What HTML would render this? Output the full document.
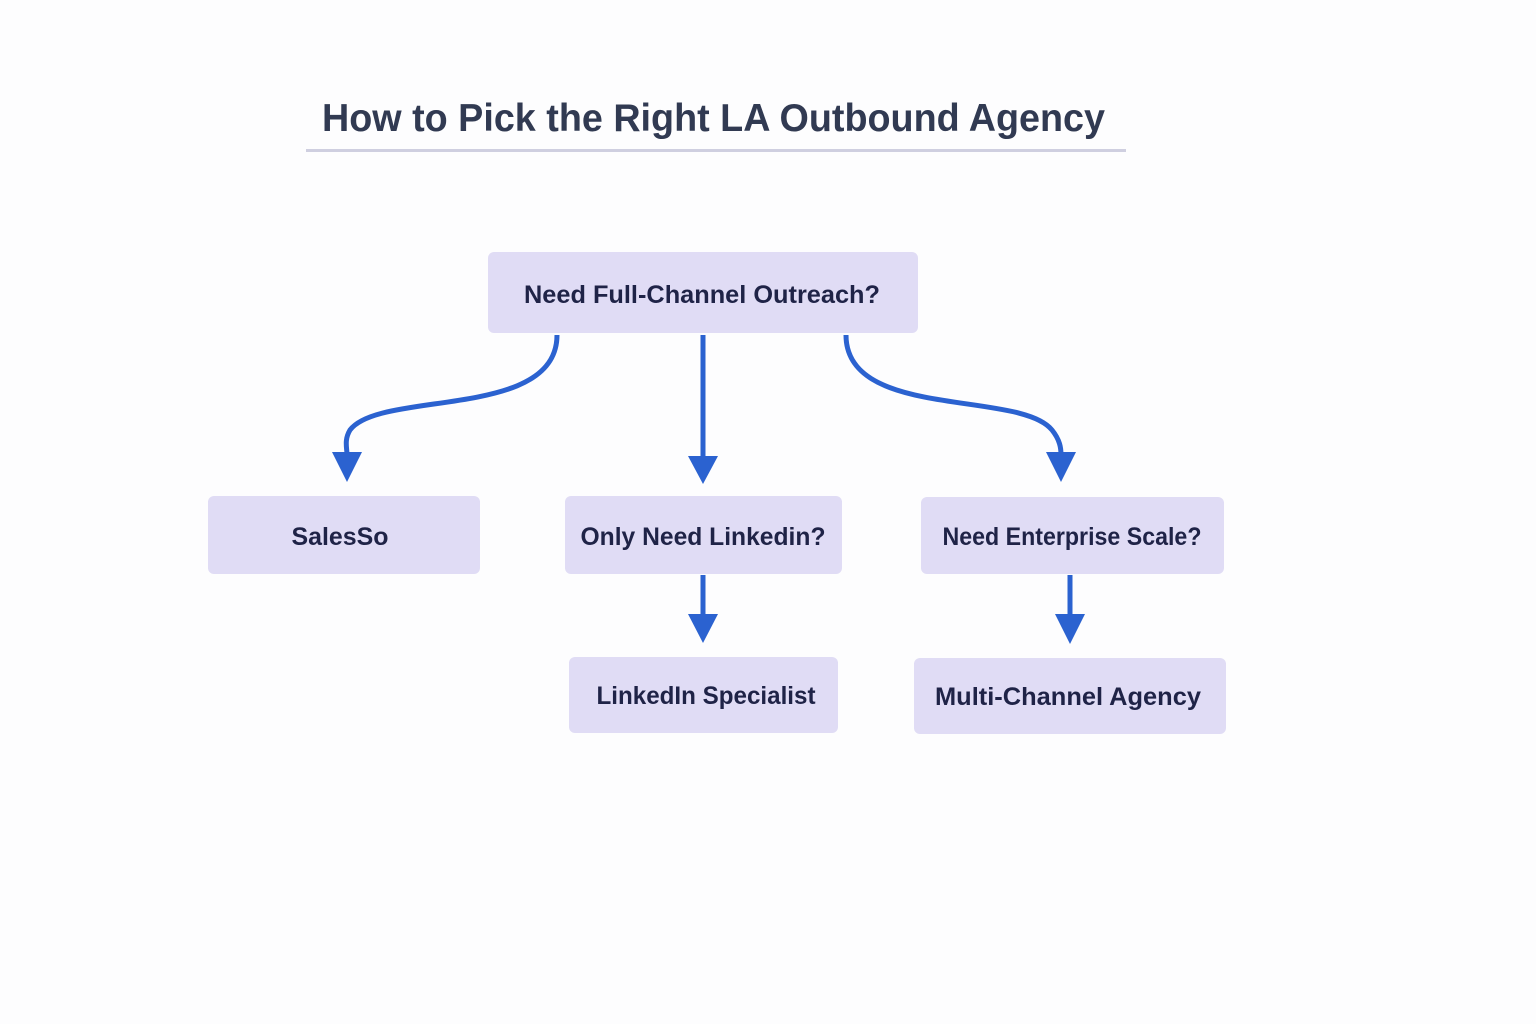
<!DOCTYPE html>
<html><head><meta charset="utf-8"><style>
html,body{margin:0;padding:0;background:#fdfdfe;}
svg{display:block}
text{font-family:"Liberation Sans",sans-serif;}
</style></head><body>
<svg width="1536" height="1024" viewBox="0 0 1536 1024">
<rect width="1536" height="1024" fill="#fdfdfe"/>
<text x="322" y="131" font-size="39" font-weight="bold" fill="#313a52" textLength="783" lengthAdjust="spacingAndGlyphs">How to Pick the Right LA Outbound Agency</text>
<rect x="306" y="149" width="820" height="3" fill="#cfcfe0"/>
<g fill="#e0dcf5">
<rect x="488" y="252" width="430" height="81" rx="6"/>
<rect x="208" y="496" width="272" height="78" rx="6"/>
<rect x="565" y="496" width="277" height="78" rx="6"/>
<rect x="921" y="497" width="303" height="77" rx="6"/>
<rect x="569" y="657" width="269" height="76" rx="6"/>
<rect x="914" y="658" width="312" height="76" rx="6"/>
</g>
<g font-size="25" font-weight="bold" fill="#1f2347" text-anchor="middle">
<text x="702" y="303" textLength="356" lengthAdjust="spacingAndGlyphs">Need Full-Channel Outreach?</text>
<text x="340" y="545" textLength="97" lengthAdjust="spacingAndGlyphs">SalesSo</text>
<text x="703" y="545" textLength="245" lengthAdjust="spacingAndGlyphs">Only Need Linkedin?</text>
<text x="1072" y="545" textLength="259" lengthAdjust="spacingAndGlyphs">Need Enterprise Scale?</text>
<text x="706" y="704" textLength="219" lengthAdjust="spacingAndGlyphs">LinkedIn Specialist</text>
<text x="1068" y="705" textLength="266" lengthAdjust="spacingAndGlyphs">Multi-Channel Agency</text>
</g>
<g stroke="#2b62d0" stroke-width="5" fill="none">
<path d="M557 335 C557 420 380 390 350 430 C344 440 347 448 347 455"/>
<path d="M703 335 L703 458"/>
<path d="M846 335 C846 420 1020 390 1052 430 C1060 440 1061 448 1061 455"/>
<path d="M703 575 L703 618"/>
<path d="M1070 575 L1070 618"/>
</g>
<g fill="#2b62d0">
<polygon points="332,452 362,452 347,482"/>
<polygon points="688,456 718,456 703,484"/>
<polygon points="1046,452 1076,452 1061,482"/>
<polygon points="688,614 718,614 703,643"/>
<polygon points="1055,614 1085,614 1070,644"/>
</g>
</svg>
</body></html>
